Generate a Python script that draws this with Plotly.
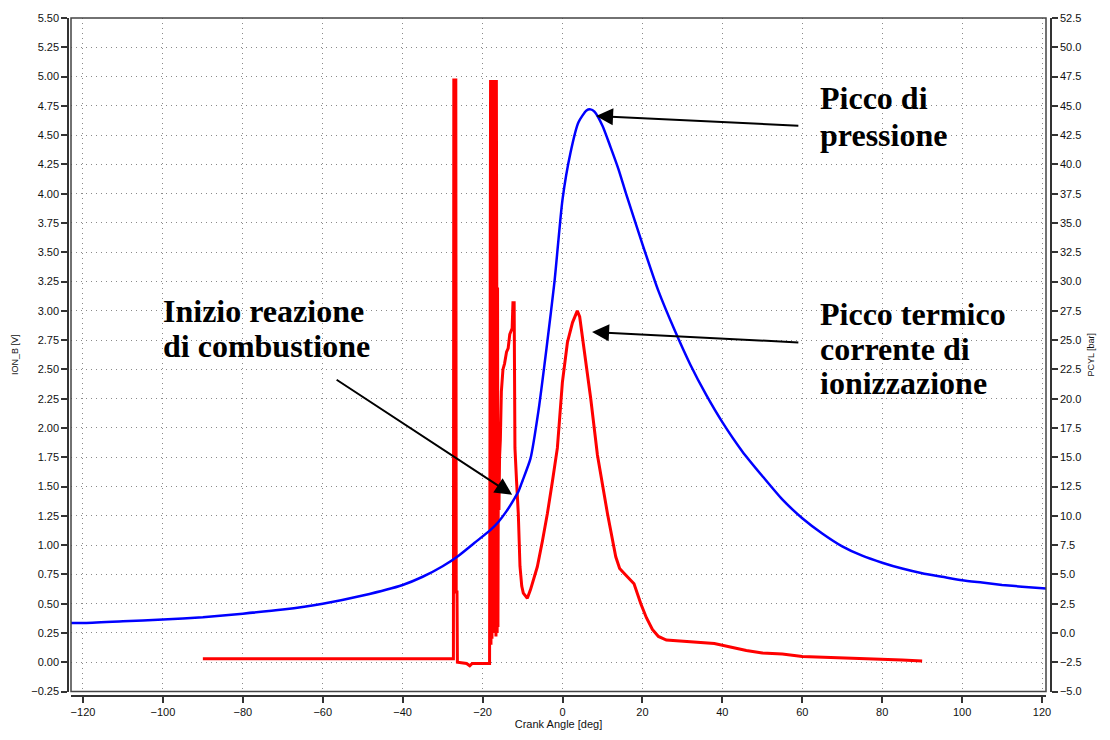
import plotly.graph_objects as go

# ---- Data ----
# Cylinder pressure PCYL [bar] vs crank angle [deg]
pcyl_deg = [-123, -120, -110, -100, -90, -80, -70, -60, -50, -40, -35, -30, -26, -22, -18, -16,
            -14, -12, -11, -10, -8, -6, -4, -2, 0, 2, 4, 6, 7, 8, 10, 12, 14, 16, 20, 24, 28,
            32, 36, 40, 45, 50, 55, 60, 65, 70, 75, 80, 85, 90, 95, 100, 105, 110, 115, 121]
pcyl_bar = [0.85, 0.85, 1.0, 1.15, 1.35, 1.65, 2.0, 2.5, 3.2, 4.1, 4.8, 5.7, 6.6, 7.7, 8.8, 9.5,
            10.4, 11.5, 12.1, 13.0, 14.9, 19.0, 24.3, 30.0, 37.0, 41.0, 43.6, 44.6, 44.7, 44.5,
            43.3, 41.5, 39.6, 37.4, 33.2, 29.2, 25.9, 22.9, 20.3, 18.0, 15.5, 13.4, 11.4, 9.8,
            8.5, 7.4, 6.6, 6.0, 5.5, 5.1, 4.8, 4.5, 4.3, 4.1, 3.95, 3.8]

# Ionization current signal ION_B [V] vs crank angle [deg]
ion_deg = [-90, -27.3, -27.2, -26.7, -26.6, -26.4, -26.3, -24.0, -23.2, -22.6, -18.25,
           -18.15, -18.0, -17.9, -17.8, -17.65, -17.55, -17.45, -17.35, -17.25, -17.15,
           -17.05, -16.95, -16.85, -16.75, -16.65, -16.55, -16.45, -16.35, -16.25, -16.15,
           -16.05, -15.9, -15.75, -15.55, -15.3, -14.9, -14.5, -14.0, -13.6, -13.2, -12.6,
           -12.4, -12.1, -11.95, -11.9, -11.5, -11.06, -10.64, -10.2, -9.81, -8.8, -8.0,
           -7.2, -6.3, -5.0, -3.78, -2.5, -1.28, -0.03, 1.23, 2.5, 3.7, 4.3, 5.4, 7.07, 8.74,
           10.0, 11.25, 13.33, 14.3, 15.4, 17.0, 17.9, 19.6, 21.0, 22.5, 24.0, 26.0, 30.0,
           35.0, 38.0, 42.0, 46.0, 50.0, 55.0, 60.0, 65.0, 70.0, 75.0, 80.0, 85.0, 90.0]
ion_v = [0.03, 0.03, 4.97, 4.97, 0.6, 0.6, 0.0, -0.01, -0.03, -0.01, -0.01,
         4.97, 4.97, 0.15, 4.97, 0.2, 4.97, 0.25, 4.97, 0.25, 4.97,
         0.25, 4.97, 0.25, 4.97, 0.22, 4.97, 3.2, 0.25, 3.2, 0.3,
         1.9, 1.3, 1.75, 1.9, 2.31, 2.5, 2.55, 2.65, 2.68, 2.8, 2.85,
         3.07, 3.07, 2.2, 1.83, 1.55, 1.27, 0.82, 0.65, 0.59, 0.547, 0.62,
         0.72, 0.815, 1.04, 1.27, 1.55, 1.83, 2.39, 2.73, 2.9, 3.0, 2.95, 2.68, 2.25, 1.77,
         1.5, 1.27, 0.9, 0.8, 0.76, 0.7, 0.67, 0.5, 0.38, 0.28, 0.22, 0.19, 0.18,
         0.17, 0.16, 0.13, 0.1, 0.08, 0.07, 0.05, 0.045, 0.04, 0.03, 0.03, 0.02, 0.01]

x_ticks = list(range(-120, 121, 20))

# ---- Layout helpers (pixel -> paper) ----
W, H = 1110, 740
ML, MR, MT, MB = 68, 59, 16, 39
PW, PH = W - ML - MR, H - MT - MB
def px(p):
    return (p - ML) / PW
def py(p):
    return (H - MB - p) / PH

fig = go.Figure()
fig.add_trace(go.Scatter(x=ion_deg, y=ion_v, mode="lines", name="ION_B",
                         line=dict(color="#ff0000", width=3), yaxis="y"))
fig.add_trace(go.Scatter(x=pcyl_deg, y=pcyl_bar, mode="lines", name="PCYL",
                         line=dict(color="#0000ff", width=2.5, shape="spline", smoothing=0.6),
                         yaxis="y2"))

tickfont = dict(family="Liberation Sans, Arial, sans-serif", size=11, color="#111111")
axcommon = dict(showline=True, linecolor="#333333", linewidth=1.5, ticks="outside",
                ticklen=6, tickcolor="#333333", tickwidth=1.5, zeroline=False, tickfont=tickfont)
grid = dict(showgrid=True, gridcolor="#8a8a8a", griddash="1px,4px", gridwidth=1)

fig.update_layout(
    width=W, height=H, margin=dict(l=ML, r=MR, t=MT, b=MB),
    paper_bgcolor="white", plot_bgcolor="white", showlegend=False,
    xaxis=dict(domain=[px(71), px(1046)], range=[-123, 121], anchor="free", position=0,
               tickvals=x_ticks,
               title=dict(text="Crank Angle [deg]", standoff=2,
                          font=dict(family="Liberation Sans, Arial", size=11, color="#111111")),
               **grid, **axcommon),
    yaxis=dict(domain=[py(696.5), 1], range=[-0.25, 5.5], anchor="free", position=0,
               dtick=0.25, tick0=0, tickformat=".2f",
               title=dict(text="ION_B [V]", standoff=10,
                          font=dict(family="Liberation Sans, Arial", size=9, color="#111111")),
               **grid, **axcommon),
    yaxis2=dict(overlaying="y", side="right", anchor="free", position=1, range=[-5, 52.5],
                dtick=2.5, tick0=0, tickformat=".1f", showgrid=False,
                title=dict(text="PCYL [bar]", standoff=6,
                           font=dict(family="Liberation Sans, Arial", size=9, color="#111111")),
                **axcommon),
)

# plot frame
fig.add_shape(type="rect", xref="x domain", yref="y domain", x0=0, x1=1, y0=0, y1=1,
              line=dict(color="#444444", width=1.5), layer="above")

tfont = dict(family="Liberation Serif, Times New Roman, serif", size=32, color="black")
labels = [
    ("<b>Picco di</b>", 818, 97),
    ("<b>pressione</b>", 818, 134),
    ("<b>Inizio reazione</b>", 161, 312),
    ("<b>di combustione</b>", 161, 347),
    ("<b>Picco termico</b>", 818, 315),
    ("<b>corrente di</b>", 818, 350),
    ("<b>ionizzazione</b>", 818, 385),
]
for txt, xx, yy in labels:
    fig.add_annotation(text=txt, xref="paper", yref="paper", x=px(xx), y=py(yy),
                       xanchor="left", yanchor="middle", showarrow=False, font=tfont)

# arrows: (tip deg, tip V, tail deg, tail V)
arrows = [(8.4, 4.663, 59.4, 4.58), (7.4, 2.82, 59.4, 2.73), (-12.6, 1.43, -56.9, 2.42)]
for x0, y0, x1, y1 in arrows:
    fig.add_annotation(x=x0, y=y0, ax=x1, ay=y1, xref="x", yref="y", axref="x", ayref="y",
                       text="", showarrow=True, arrowhead=2, arrowsize=1.7, arrowwidth=2,
                       arrowcolor="black")

fig.write_html("out.html")
